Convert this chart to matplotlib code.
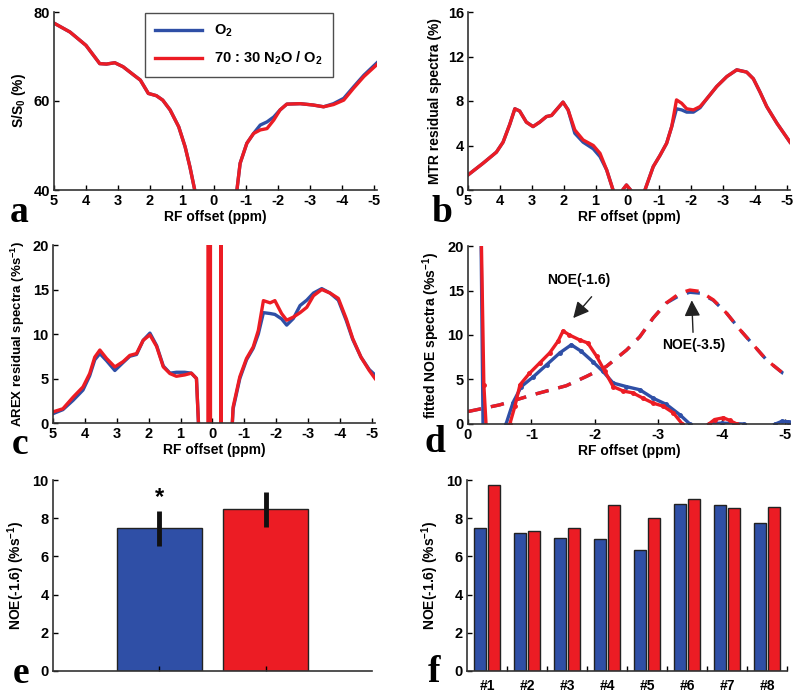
import matplotlib.pyplot as plt

plt.rcParams['font.family'] = ['Liberation Sans', 'DejaVu Sans']
plt.rcParams['font.weight'] = 'bold'
plt.rcParams['font.size'] = 10
plt.rcParams['axes.labelweight'] = 'bold'
plt.rcParams['mathtext.fontset'] = 'custom'
plt.rcParams['mathtext.rm'] = 'Liberation Sans:bold'
plt.rcParams['mathtext.bf'] = 'Liberation Sans:bold'
plt.rcParams['mathtext.default'] = 'bf'
plt.rcParams['axes.unicode_minus'] = False
plt.rcParams['xtick.direction'] = 'in'
plt.rcParams['ytick.direction'] = 'in'

blue = '#2f4fa6'
red = '#ec1c24'

## a. Z-spectra
x_a = [5, 4.5, 4, 3.57, 3.36, 3.1, 2.84, 2.5, 2.3, 2.05, 1.8, 1.6, 1.37, 1.1, 0.9, 0.75, 0.6, 0,
       -0.72, -0.82, -1.03, -1.24, -1.45, -1.66, -1.87, -2.07, -2.28, -2.7, -3.1, -3.43, -3.74,
       -4.06, -4.37, -4.69, -5.1]
o2_a = [77.5, 75.5, 72.5, 68.4, 68.3, 68.6, 67.7, 65.8, 64.7, 61.7, 61.2, 60.2, 58.0, 54.2, 49.7,
        45.2, 40, 20, 40, 46, 50.5, 52.7, 54.6, 55.3, 56.4, 58, 59.3, 59.4, 59.1, 58.7, 59.4,
        60.6, 63.2, 65.8, 68.6]
n2o_a = [77.5, 75.5, 72.5, 68.4, 68.3, 68.6, 67.7, 65.8, 64.7, 61.7, 61.2, 60.2, 58.0, 54.2, 49.7,
         45.2, 40, 20, 40, 46, 50.5, 52.7, 53.5, 53.8, 55.7, 58, 59.3, 59.4, 59.1, 58.7, 59.2,
         60.2, 62.9, 65.5, 68.2]

## b. MTR residual spectra
x_b = [5, 4.53, 4.11, 3.9, 3.69, 3.53, 3.38, 3.17, 2.96, 2.75, 2.54, 2.38, 2.23, 2.02, 1.86, 1.65,
       1.39, 1.07, 0.86, 0.65, 0.45, 0.3, 0.15, 0.03, -0.1, -0.3, -0.55, -0.81, -1.02, -1.23,
       -1.39, -1.54, -1.7, -1.86, -2.07, -2.28, -2.49, -2.8, -3.12, -3.43, -3.74, -3.95, -4.16,
       -4.37, -4.69, -5.1]
o2_b = [1.35, 2.4, 3.4, 4.3, 5.9, 7.3, 7.1, 6.1, 5.7, 6.1, 6.6, 6.7, 7.2, 7.9, 7.2, 5.1, 4.3, 3.7,
        3.0, 1.8, 0, -1.0, 0, 0.45, 0, -1.0, 0, 2.1, 3.1, 4.2, 5.7, 7.3, 7.2, 7.0, 7.0, 7.4, 8.2,
        9.3, 10.2, 10.8, 10.6, 10.0, 8.8, 7.5, 6.0, 4.3]
n2o_b = [1.35, 2.4, 3.4, 4.3, 5.9, 7.3, 7.1, 6.1, 5.7, 6.1, 6.6, 6.7, 7.2, 7.9, 7.2, 5.4, 4.5, 4.0,
         3.3, 1.8, 0, -1.0, 0, 0.45, 0, -1.0, 0, 2.1, 3.1, 4.2, 5.7, 8.1, 7.8, 7.3, 7.2, 7.5, 8.2,
         9.3, 10.2, 10.8, 10.6, 10.0, 8.8, 7.5, 6.0, 4.3]

## c. AREX residual spectra
x_c = [5, 4.69, 4.37, 4.06, 3.85, 3.69, 3.53, 3.32, 3.06, 2.8, 2.59, 2.38, 2.17, 1.96, 1.75, 1.54,
       1.33, 1.13, 0.87, 0.66, 0.5, 0.4, 0.14, 0.135, 0.065, 0.06, -0.265, -0.27, -0.275, -0.58,
       -0.65, -0.86, -1.07, -1.28, -1.44, -1.6, -1.81, -1.96, -2.17, -2.33, -2.54, -2.75, -2.96,
       -3.17, -3.43, -3.69, -3.95, -4.2, -4.4, -4.66, -4.92, -5.1]
o2_c = [1.05, 1.5, 2.55, 3.7, 5.3, 7.1, 7.8, 7.0, 5.9, 6.8, 7.5, 7.7, 9.3, 10.1, 8.7, 6.4, 5.6,
        5.7, 5.7, 5.6, 5.0, -3, -3, -3, -3, -3, -3, -3, -3, -3, 1.6, 5.0, 7.1, 8.4, 10.0, 12.4,
        12.3, 12.2, 11.7, 11.0, 11.75, 13.2, 13.8, 14.6, 15.1, 14.6, 13.8, 11.5, 9.4, 7.4, 6.0, 5.4]
n2o_c = [1.25, 1.6, 2.9, 4.05, 5.55, 7.4, 8.2, 7.25, 6.3, 6.9, 7.6, 7.8, 9.3, 9.9, 8.6, 6.3, 5.55,
         5.25, 5.4, 5.6, 5.0, -3, -3, 60, 60, -3, -3, 60, -3, -3, 1.8, 5.2, 7.25, 8.55, 10.4, 13.75,
         13.5, 13.75, 12.3, 11.55, 11.9, 12.4, 13.0, 14.3, 15.0, 14.6, 14.0, 11.7, 9.5, 7.4, 5.9, 5.0]

## d. fitted NOE spectra
x_d_o2 = [-0.2, -0.24, -0.4, -0.6, -0.71, -0.84, -1.03, -1.24, -1.45, -1.63, -1.79, -1.97, -2.13,
          -2.29, -2.5, -2.71, -2.92, -3.13, -3.34, -3.5, -3.65, -3.8, -4.0, -4.2, -4.35, -4.6,
          -4.85, -4.95, -5.05, -5.1]
o2_d = [25, -2, -2, 0, 2.4, 4.2, 5.3, 6.65, 8.0, 8.9, 8.15, 7.0, 5.9, 4.6, 4.2, 3.85, 2.9, 2.2,
        1.05, 0, -1, 0, 0.1, 0.05, 0, -1, 0, 0.3, 0.25, 0.2]
x_d_n2o = [-0.2, -0.25, -0.3, -0.66, -0.74, -0.82, -0.97, -1.13, -1.29, -1.42, -1.5, -1.6, -1.76,
           -1.89, -2.03, -2.16, -2.29, -2.45, -2.6, -2.76, -2.92, -3.08, -3.24, -3.38, -3.6,
           -3.8, -3.89, -4.03, -4.13, -4.24, -4.4]
n2o_d = [25, 4.4, -2, 0, 2.0, 4.4, 5.7, 6.85, 8.0, 9.3, 10.45, 10.0, 9.45, 9.1, 7.6, 5.9, 4.2,
         3.7, 3.5, 2.9, 2.35, 2.0, 1.25, 0, -1, 0, 0.5, 0.7, 0.4, 0, -1]
x_fit = [0, -0.5, -1.03, -1.55, -1.87, -2.18, -2.5, -2.71, -2.92, -3.13, -3.34, -3.5, -3.66, -3.87,
         -4.08, -4.29, -4.5, -4.71, -4.97, -5.08]
o2_fit = [1.4, 2.15, 3.3, 4.3, 5.35, 6.45, 8.3, 9.8, 11.9, 13.6, 14.45, 14.8, 14.7, 13.9, 12.45,
          10.6, 8.9, 7.2, 5.7, 5.35]
n2o_fit = [1.4, 2.15, 3.3, 4.3, 5.35, 6.45, 8.3, 9.8, 11.9, 13.6, 14.7, 15.05, 14.9, 13.95, 12.45,
           10.6, 8.9, 7.2, 5.7, 5.35]

## e. mean NOE(-1.6)
mean_vals = [7.47, 8.46]
mean_err = [0.93, 0.9]

## f. NOE(-1.6) per animal
animals = ['#1', '#2', '#3', '#4', '#5', '#6', '#7', '#8']
o2_f = [7.5, 7.2, 6.97, 6.9, 6.31, 8.76, 8.69, 7.73]
n2o_f = [9.74, 7.33, 7.5, 8.69, 7.99, 8.99, 8.53, 8.6]

offset_ticks = [5, 4, 3, 2, 1, 0, -1, -2, -3, -4, -5]


def style(ax):
    ax.spines['top'].set_visible(False)
    ax.spines['right'].set_visible(False)
    for s in ['left', 'bottom']:
        ax.spines[s].set_color('#333333')
        ax.spines[s].set_linewidth(1.2)
    ax.tick_params(length=3.5, width=1, pad=3, labelsize=10.5)


fig = plt.figure(figsize=(8, 6.97), dpi=100)
W, H = 800, 697


def axes_px(left, top, right, bottom):
    return fig.add_axes([left / W, 1 - bottom / H, (right - left) / W, (bottom - top) / H])


def letter(x, y, s):
    fig.text(x / W, 1 - y / H, s, family='Liberation Serif', weight='bold', size=27, va='baseline')


lw = 2.4
arrow = dict(arrowstyle='-|>', color='#222222', lw=1, mutation_scale=24, shrinkA=0, shrinkB=0)

## a
ax = axes_px(54, 12, 377, 190)
ax.plot(x_a, o2_a, color=blue, lw=lw, label='O$_2$')
ax.plot(x_a, n2o_a, color=red, lw=lw, label='70 : 30 N$_2$O / O$_2$')
ax.set_xlim(5, -5.1)
ax.set_ylim(40, 80)
ax.set_yticks([40, 60, 80])
ax.set_xticks(offset_ticks)
ax.set_xlabel('RF offset (ppm)', labelpad=1)
ax.set_ylabel('S/S$_0$ (%)')
style(ax)
leg = ax.legend(loc='upper left', bbox_to_anchor=(0.282, 0.995), borderaxespad=0,
                handlelength=3.2, fancybox=False, edgecolor='#222222', borderpad=0.7,
                labelspacing=0.7, fontsize=10.5)
leg.get_frame().set_linewidth(1.0)
letter(10, 222, 'a')

## b
ax = axes_px(468, 12, 790, 190)
ax.plot(x_b, o2_b, color=blue, lw=lw)
ax.plot(x_b, n2o_b, color=red, lw=lw)
ax.set_xlim(5, -5.1)
ax.set_ylim(0, 16)
ax.set_yticks([0, 4, 8, 12, 16])
ax.set_xticks(offset_ticks)
ax.set_xlabel('RF offset (ppm)', labelpad=1)
ax.set_ylabel('MTR residual spectra (%)')
style(ax)
letter(432, 222, 'b')

## c
ax = axes_px(53, 245, 375, 423)
ax.plot(x_c, o2_c, color=blue, lw=lw)
ax.plot(x_c, n2o_c, color=red, lw=lw)
ax.set_xlim(5, -5.1)
ax.set_ylim(0, 20)
ax.set_yticks([0, 5, 10, 15, 20])
ax.set_xticks(offset_ticks)
ax.set_xlabel('RF offset (ppm)', labelpad=1)
ax.set_ylabel('AREX residual spectra (%s$^{-1}$)', fontsize=9.5)
style(ax)
letter(12, 454, 'c')

## d
ax = axes_px(468, 246, 790, 424)
ax.plot(x_fit, o2_fit, color=blue, lw=lw, ls=(0, (4, 3)))
ax.plot(x_fit, n2o_fit, color=red, lw=lw, ls=(0, (4, 3)))
ax.plot(x_d_o2, o2_d, color=blue, lw=lw, marker='o', ms=2.5)
ax.plot(x_d_n2o, n2o_d, color=red, lw=lw, marker='o', ms=2.5)
ax.text(-1.74, 16.2, 'NOE(-1.6)', ha='center', va='center')
ax.annotate('', xy=(-1.66, 11.9), xytext=(-1.95, 14.3), arrowprops=arrow)
ax.text(-3.56, 8.9, 'NOE(-3.5)', ha='center', va='center')
ax.annotate('', xy=(-3.53, 13.9), xytext=(-3.55, 10.3), arrowprops=arrow)
ax.set_xlim(0, -5.08)
ax.set_ylim(0, 20)
ax.set_yticks([0, 5, 10, 15, 20])
ax.set_xticks([0, -1, -2, -3, -4, -5])
ax.set_xlabel('RF offset (ppm)', labelpad=1)
ax.set_ylabel('fitted NOE spectra (%s$^{-1}$)')
style(ax)
letter(425, 452, 'd')

## e
ax = axes_px(53, 480, 372, 671)
ax.bar([1, 2], mean_vals, width=0.8, color=[blue, red], edgecolor='#222222', linewidth=1)
ax.errorbar([1, 2], mean_vals, yerr=mean_err, fmt='none', ecolor='#111111', elinewidth=3.5,
            capsize=0)
ax.text(1, 9.1, '*', ha='center', va='center', fontsize=17)
ax.set_xlim(0, 3)
ax.set_ylim(0, 10)
ax.set_yticks([0, 2, 4, 6, 8, 10])
ax.set_xticks([1, 2])
ax.set_xticklabels(['', ''])
ax.set_ylabel('NOE(-1.6) (%s$^{-1}$)')
style(ax)
letter(13, 683, 'e')

## f
ax = axes_px(467, 480, 787, 671)
pos = list(range(1, len(animals) + 1))
ax.bar([p - 0.17 for p in pos], o2_f, width=0.31, color=blue, edgecolor='#222222', linewidth=1)
ax.bar([p + 0.17 for p in pos], n2o_f, width=0.31, color=red, edgecolor='#222222', linewidth=1)
ax.set_xlim(0.5, 8.5)
ax.set_ylim(0, 10)
ax.set_yticks([0, 2, 4, 6, 8, 10])
ax.set_xticks([p + 0.5 for p in pos])
ax.set_xticklabels([''] * len(pos))
ax.set_xticks(pos, minor=True)
ax.set_xticklabels(animals, minor=True)
ax.set_ylabel('NOE(-1.6) (%s$^{-1}$)')
style(ax)
ax.tick_params(axis='x', which='minor', length=0, pad=6)
letter(428, 682, 'f')

plt.savefig('out.png', dpi=100)
